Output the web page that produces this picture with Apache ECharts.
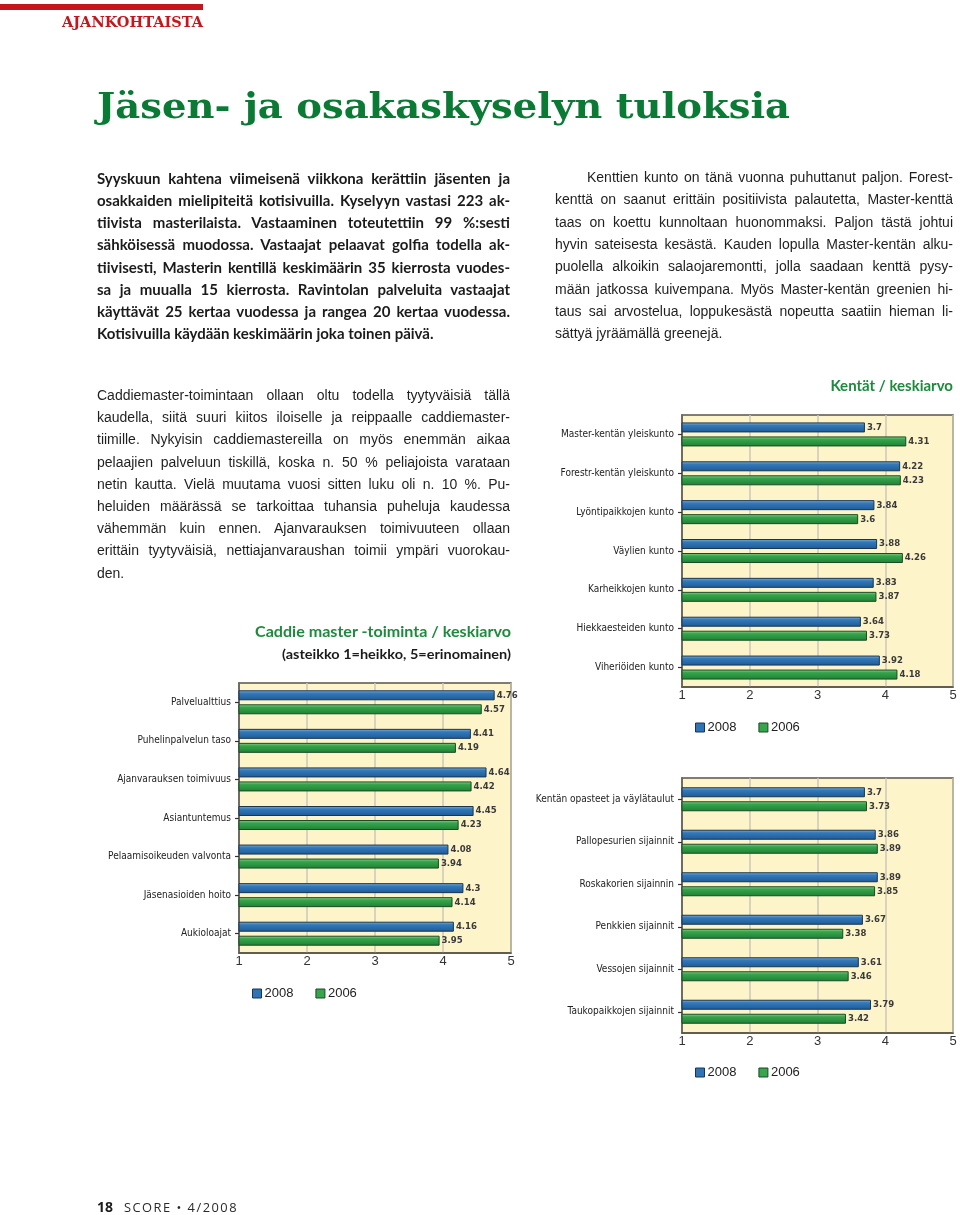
<!DOCTYPE html>
<html><head><meta charset="utf-8">
<script src="https://cdn.jsdelivr.net/npm/echarts@6/dist/echarts.min.js"></script>
<style>
html,body{margin:0;padding:0;background:#fff;}
body{width:960px;height:1215px;position:relative;overflow:hidden;}
#chart{position:absolute;left:0;top:0;width:960px;height:1215px;}
.ln{position:absolute;white-space:nowrap;display:inline-block;transform-origin:0 50%;}
.b{font-family:Lato,'Noto Sans',sans-serif;font-weight:700;font-size:15px;color:#1b1b1b;}
.r{font-family:'Liberation Sans',Arial,sans-serif;font-size:14px;color:#1f1f1f;}
</style></head><body>
<div id="chart"></div>
<div style="position:absolute;left:0;top:4px;width:203px;height:6px;background:#c4161c"></div>
<script>
// ---------- chart data ----------
const fieldCategories = ['Master-kentän yleiskunto','Forestr-kentän yleiskunto','Lyöntipaikkojen kunto','Väylien kunto','Karheikkojen kunto','Hiekkaesteiden kunto','Viheriöiden kunto'];
const field2008 = [3.7, 4.22, 3.84, 3.88, 3.83, 3.64, 3.92];
const field2006 = [4.31, 4.23, 3.6, 4.26, 3.87, 3.73, 4.18];

const caddieCategories = ['Palvelualttius','Puhelinpalvelun taso','Ajanvarauksen toimivuus','Asiantuntemus','Pelaamisoikeuden valvonta','Jäsenasioiden hoito','Aukioloajat'];
const caddie2008 = [4.76, 4.41, 4.64, 4.45, 4.08, 4.3, 4.16];
const caddie2006 = [4.57, 4.19, 4.42, 4.23, 3.94, 4.14, 3.95];

const facilityCategories = ['Kentän opasteet ja väylätaulut','Pallopesurien sijainnit','Roskakorien sijainnin','Penkkien sijainnit','Vessojen sijainnit','Taukopaikkojen sijainnit'];
const facility2008 = [3.7, 3.86, 3.89, 3.67, 3.61, 3.79];
const facility2006 = [3.73, 3.89, 3.85, 3.38, 3.46, 3.42];

const seriesNames = ['2008', '2006'];
const valueTicks = [1, 2, 3, 4, 5];

// ---------- article text ----------
const leftLines = [
 'Syyskuun kahtena viimeisenä viikkona kerättiin jäsenten ja',
 'osakkaiden mielipiteitä kotisivuilla. Kyselyyn vastasi 223 ak-',
 'tiivista masterilaista. Vastaaminen toteutettiin 99 %:sesti',
 'sähköisessä muodossa. Vastaajat pelaavat golfia todella ak-',
 'tiivisesti, Masterin kentillä keskimäärin 35 kierrosta vuodes-',
 'sa ja muualla 15 kierrosta. Ravintolan palveluita vastaajat',
 'käyttävät 25 kertaa vuodessa ja rangea 20 kertaa vuodessa.',
 'Kotisivuilla käydään keskimäärin joka toinen päivä.'
];
const rightLines = [
 'Kenttien kunto on tänä vuonna puhuttanut paljon. Forest-',
 'kenttä on saanut erittäin positiivista palautetta, Master-kenttä',
 'taas on koettu kunnoltaan huonommaksi. Paljon tästä johtui',
 'hyvin sateisesta kesästä. Kauden lopulla Master-kentän alku-',
 'puolella alkoikin salaojaremontti, jolla saadaan kenttä pysy-',
 'mään jatkossa kuivempana. Myös Master-kentän greenien hi-',
 'taus sai arvostelua, loppukesästä nopeutta saatiin hieman li-',
 'sättyä jyräämällä greenejä.'
];
const midLines = [
 'Caddiemaster-toimintaan ollaan oltu todella tyytyväisiä tällä',
 'kaudella, siitä suuri kiitos iloiselle ja reippaalle caddiemaster-',
 'tiimille. Nykyisin caddiemastereilla on myös enemmän aikaa',
 'pelaajien palveluun tiskillä, koska n. 50 % peliajoista varataan',
 'netin kautta. Vielä muutama vuosi sitten luku oli n. 10 %. Pu-',
 'heluiden määrässä se tarkoittaa tuhansia puheluja kaudessa',
 'vähemmän kuin ennen. Ajanvarauksen toimivuuteen ollaan',
 'erittäin tyytyväisiä, nettiajanvaraushan toimii ympäri vuorokau-',
 'den.'
];

function place(text, cls, x, yc, target, mode, lh, style) {
  const d = document.createElement('div');
  d.className = 'ln ' + cls;
  d.textContent = text;
  d.style.lineHeight = lh + 'px';
  d.style.height = lh + 'px';
  d.style.left = x + 'px';
  d.style.top = (yc - lh / 2) + 'px';
  if (style) Object.assign(d.style, style);
  document.body.appendChild(d);
  const w = d.getBoundingClientRect().width;
  if (mode === 'justify') {
    const n = (text.match(/ /g) || []).length;
    if (w < target && n > 0) d.style.wordSpacing = ((target - w) / n) + 'px';
    else if (w > target) d.style.transform = 'scaleX(' + (target / w) + ')';
  } else if (mode === 'fit') {
    d.style.transform = 'scaleX(' + (target / w) + ')';
  } else if (mode === 'max') {
    if (w > target) d.style.transform = 'scaleX(' + (target / w) + ')';
  } else if (mode === 'right') {
    d.style.left = (x - Math.min(w, target)) + 'px';
    if (w > target) d.style.transform = 'scaleX(' + (target / w) + ')';
  }
  return d;
}
function paragraph(lines, cls, x, y0, dy, width, indent) {
  lines.forEach((t, i) => {
    const ind = i === 0 ? (indent || 0) : 0;
    const last = i === lines.length - 1;
    place(t, cls, x + ind, y0 + i * dy, width - ind, last ? 'max' : 'justify', 20);
  });
}

function buildText() {
  place('AJANKOHTAISTA', '', 62, 22, 141, 'fit', 18,
    {fontFamily:"'DejaVu Serif',serif", fontWeight:'700', fontSize:'14px', color:'#c4161c'});
  place('Jäsen- ja osakaskyselyn tuloksia', '', 97, 105, 693, 'fit', 44,
    {fontFamily:"'DejaVu Serif',serif", fontWeight:'700', fontSize:'36px', color:'#0b7a35'});
  paragraph(leftLines, 'b', 97, 178, 22.15, 413, 0);
  paragraph(rightLines, 'r', 555, 177, 22.3, 398, 32);
  paragraph(midLines, 'r', 97, 395, 22.2, 413, 0);
  place('Kentät / keskiarvo', '', 953, 385, 134, 'right', 20,
    {fontFamily:"Lato,'Noto Sans',sans-serif", fontWeight:'700', fontSize:'15px', color:'#1e8a3c'});
  place('Caddie master -toiminta / keskiarvo', '', 255, 631, 256, 'fit', 20,
    {fontFamily:"Lato,'Noto Sans',sans-serif", fontWeight:'700', fontSize:'15px', color:'#1e8a3c'});
  place('(asteikko 1=heikko, 5=erinomainen)', '', 282, 654, 229, 'fit', 18,
    {fontFamily:"Lato,'Noto Sans',sans-serif", fontWeight:'700', fontSize:'13px', color:'#1b1b1b'});
  place('18', '', 97, 1207, 16, 'fit', 18,
    {fontFamily:"'Open Sans',sans-serif", fontWeight:'700', fontSize:'14px', color:'#1b1b1b'});
  place('SCORE • 4/2008', '', 124, 1207, 114, 'fit', 18,
    {fontFamily:"'Open Sans',sans-serif", fontWeight:'400', fontSize:'13px', letterSpacing:'1.5px', color:'#2a2a2a'});
}

// ---------- chart ----------
const NARROW = "'Liberation Sans Narrow','Arial Narrow','DejaVu Sans Condensed',sans-serif";
const AXIS = '#57544a';
const BLUE = {type:'linear',x:0,y:0,x2:0,y2:1,colorStops:[{offset:0,color:'#86b6e0'},{offset:0.3,color:'#3479b9'},{offset:1,color:'#1d5a96'}]};
const GREEN = {type:'linear',x:0,y:0,x2:0,y2:1,colorStops:[{offset:0,color:'#92d690'},{offset:0.3,color:'#36a54c'},{offset:1,color:'#1f8034'}]};

const panels = [
  {cats: fieldCategories, a: field2008, b: field2006, grid:{left:682, top:415, width:271, height:272}, legend:{left:690, top:716}},
  {cats: caddieCategories, a: caddie2008, b: caddie2006, grid:{left:239, top:683, width:272, height:270}, legend:{left:247, top:982}},
  {cats: facilityCategories, a: facility2008, b: facility2006, grid:{left:682, top:778, width:271, height:255}, legend:{left:690, top:1061}}
];

const option = {
  animation: false,
  backgroundColor: 'transparent',
  grid: panels.map(p => Object.assign({show:true, backgroundColor:'#fdf4c9', borderColor:AXIS, borderWidth:1.5, containLabel:false}, p.grid)),
  xAxis: panels.map((p, i) => ({
    gridIndex:i, type:'value', min:valueTicks[0], max:valueTicks[valueTicks.length-1], interval:1,
    axisLine:{show:true, lineStyle:{color:AXIS, width:1.5}},
    axisTick:{show:false},
    splitLine:{show:true, lineStyle:{color:'#cdc9b8', width:1.5}},
    axisLabel:{margin:2, fontSize:13, color:'#333', fontFamily:"'Liberation Sans',Arial,sans-serif"}
  })),
  yAxis: panels.map((p, i) => ({
    gridIndex:i, type:'category', data:p.cats, inverse:true,
    axisLine:{show:true, lineStyle:{color:AXIS, width:1.5}},
    axisTick:{show:true, alignWithLabel:true, length:4, lineStyle:{color:'#333', width:1.2}},
    splitLine:{show:false},
    axisLabel:{margin:8, fontSize:10, color:'#222', fontFamily:NARROW}
  })),
  legend: panels.map(p => ({
    left:p.legend.left, top:p.legend.top, itemWidth:9, itemHeight:9, itemGap:22,
    textStyle:{fontSize:13, color:'#222', fontFamily:"'Liberation Sans',Arial,sans-serif", padding:[0,0,0,-2]},
    data:[
      {name:seriesNames[0], icon:'rect', itemStyle:{color:'#2f74b5', borderColor:'#1b3550', borderWidth:1}},
      {name:seriesNames[1], icon:'rect', itemStyle:{color:'#36a54c', borderColor:'#1b4a25', borderWidth:1}}
    ]
  })),
  series: []
};
panels.forEach((p, i) => {
  [[p.a, BLUE, '#1b3550', seriesNames[0]], [p.b, GREEN, '#1b4a25', seriesNames[1]]].forEach(([data, col, bc, name]) => {
    option.series.push({
      name, type:'bar', xAxisIndex:i, yAxisIndex:i, data, clip:true,
      barWidth:10, barGap:'40%',
      itemStyle:{color:col, borderColor:bc, borderWidth:1},
      label:{show:true, position:'right', distance:2, fontSize:9.5, fontWeight:'bold', color:'#3a3a3a', fontFamily:NARROW},
      emphasis:{disabled:true}
    });
  });
});

function init() {
  buildText();
  const chart = echarts.init(document.getElementById('chart'), null, {renderer:'canvas'});
  chart.setOption(option);
}
if (document.fonts && document.fonts.ready) document.fonts.ready.then(init); else init();
</script>
</body></html>
